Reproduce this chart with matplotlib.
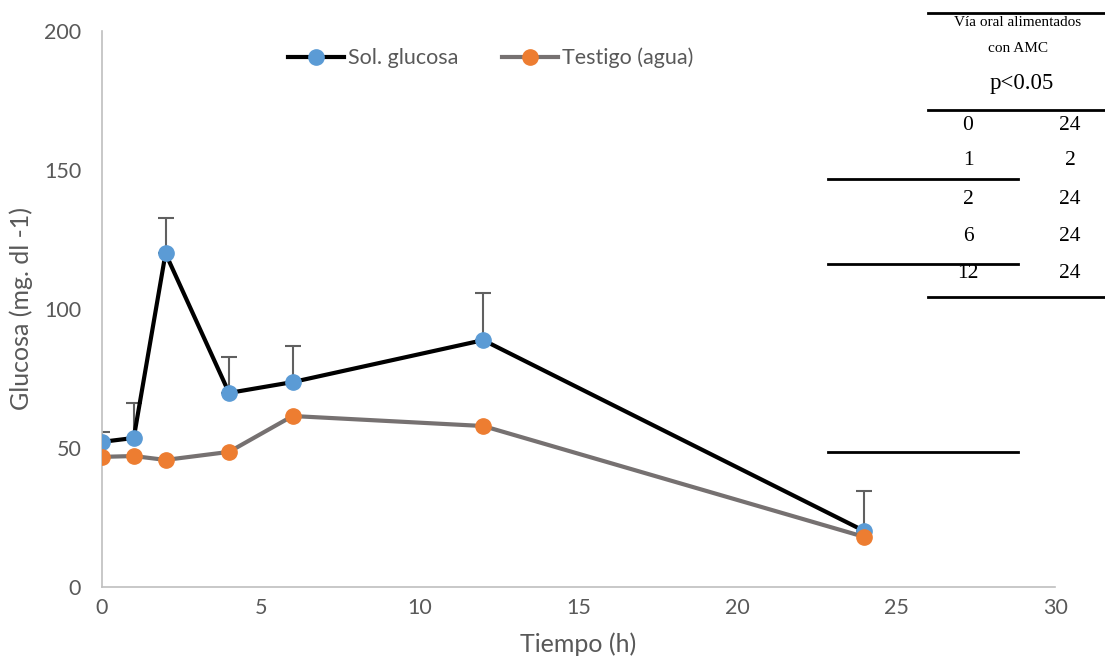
import matplotlib
matplotlib.use('Agg')
import matplotlib.pyplot as plt
from matplotlib.lines import Line2D

# data
tiempo = [0, 1, 2, 4, 6, 12, 24]
glucosa = [52.2, 53.6, 120.0, 69.8, 73.7, 88.8, 20.1]
glucosa_err = [3.6, 12.6, 12.6, 13.0, 13.0, 17.0, 14.4]
testigo = [46.8, 47.1, 45.7, 48.6, 61.5, 57.9, 18.0]

tabla_col1 = ['0', '1', '2', '6', '12']
tabla_col2 = ['24', '2', '24', '24', '24']

plt.rcParams['font.family'] = ['Lato', 'DejaVu Sans']
gris = '#595959'

fig = plt.figure(figsize=(11.05, 6.69), dpi=100)
ax = fig.add_axes([0.0923, 0.1226, 0.8625, 0.8311])

ax.errorbar(tiempo, glucosa, yerr=[[0] * len(glucosa_err), glucosa_err],
            fmt='none', ecolor='#606060', elinewidth=1.5, capsize=6, capthick=1.5, zorder=1)
ax.plot(tiempo, glucosa, color='black', lw=3, marker='o', ms=11,
        mfc='#5b9bd5', mec='#5b9bd5', zorder=3, label='Sol. glucosa')
ax.plot(tiempo, testigo, color='#767171', lw=3, marker='o', ms=11,
        mfc='#ed7d31', mec='#ed7d31', zorder=4, label='Testigo (agua)')

ax.set_xlim(0, 30)
ax.set_ylim(0, 200)
ax.set_xticks([0, 5, 10, 15, 20, 25, 30])
ax.set_yticks([0, 50, 100, 150, 200])
ax.tick_params(length=0, labelsize=15.5, colors=gris)
ax.tick_params(axis='y', pad=15)
ax.tick_params(axis='x', pad=8)
for s in ['top', 'right']:
    ax.spines[s].set_visible(False)
for s in ['left', 'bottom']:
    ax.spines[s].set_color('#bfbfbf')
    ax.spines[s].set_linewidth(1.2)
ax.set_xlabel('Tiempo (h)', fontsize=18, color=gris, labelpad=10)
ax.set_ylabel('Glucosa (mg. dl -1)', fontsize=18, color=gris, labelpad=8)

ax.legend(loc='upper center', bbox_to_anchor=(0.408, 1.005), ncol=2, frameon=False,
          fontsize=15.5, labelcolor=gris, handlelength=2.6, handletextpad=0.2,
          columnspacing=2.0)

# table drawn in figure pixels
W, H = 1105, 669

def hline(x0, x1, y):
    fig.add_artist(Line2D([x0 / W, x1 / W], [1 - y / H, 1 - y / H],
                          color='black', lw=2, transform=fig.transFigure))

hline(928, 1105, 13)
hline(928, 1105, 110)
hline(828, 1018, 179)
hline(828, 1018, 264)
hline(928, 1105, 297)
hline(828, 1018, 452)

serif = 'Liberation Serif'
fig.text(1018 / W, 1 - 23 / H, 'Vía oral alimentados', family=serif, fontsize=11,
         ha='center', va='center')
fig.text(1018 / W, 1 - 48 / H, 'con AMC', family=serif, fontsize=11,
         ha='center', va='center')
fig.text(1022 / W, 1 - 83 / H, 'p<0.05', family=serif, fontsize=16.5,
         ha='center', va='center')
rows_y = [125, 161, 199, 236, 273]
for a, b, y in zip(tabla_col1, tabla_col2, rows_y):
    fig.text(968 / W, 1 - y / H, a, family=serif, fontsize=15.5, ha='center', va='center')
    fig.text(1070 / W, 1 - y / H, b, family=serif, fontsize=15.5, ha='center', va='center')

fig.savefig('out.png', dpi=100)
